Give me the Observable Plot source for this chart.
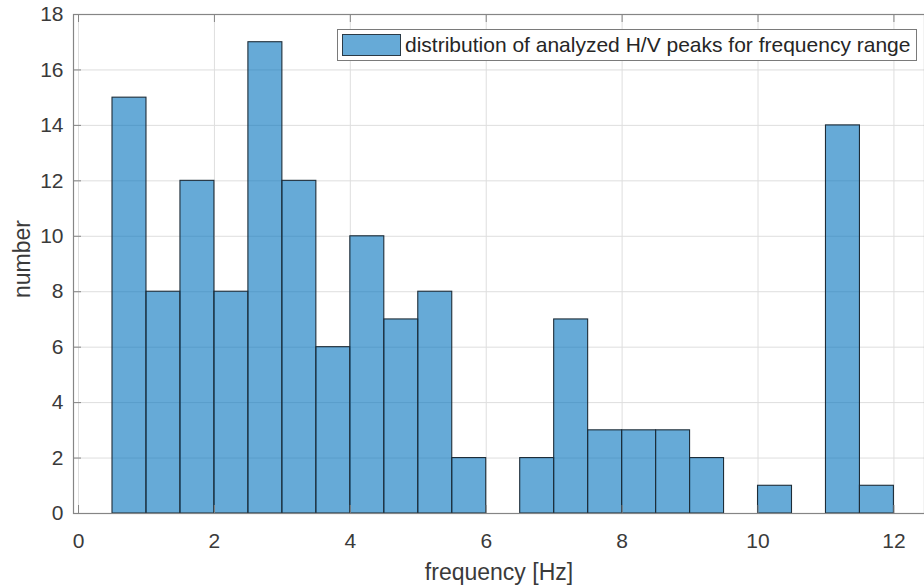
<!DOCTYPE html>
<html>
<head>
<meta charset="utf-8">
<script src="https://cdn.jsdelivr.net/npm/d3@7"></script>
<script src="https://cdn.jsdelivr.net/npm/@observablehq/plot@0.6"></script>
<style>
  body { margin: 0; background: #fff; font-family: "Liberation Sans", Arial, sans-serif; }
  #wrap { position: relative; width: 924px; height: 588px; overflow: hidden; }
  #legend { position: absolute; left: 337px; top: 29px; height: 32px; width: 580px; box-sizing: border-box;
    border: 1px solid #7a7a7a; background: #fff; display: flex; align-items: center; padding-left: 4px;
    font-size: 21px; color: #262626; white-space: nowrap; }
  #legend .sw { width: 59px; height: 22px; box-sizing: border-box; background: rgba(0,114,189,0.6);
    border: 1px solid #2a3a46; margin-right: 4px; }
</style>
</head>
<body>
<div id="wrap"></div>
<script>
// bin edges (Hz) and counts
const binStart = [0.5, 1.0, 1.5, 2.0, 2.5, 3.0, 3.5, 4.0, 4.5, 5.0, 5.5, 6.0, 6.5, 7.0, 7.5, 8.0, 8.5, 9.0, 9.5, 10.0, 10.5, 11.0, 11.5];
const binEnd   = [1.0, 1.5, 2.0, 2.5, 3.0, 3.5, 4.0, 4.5, 5.0, 5.5, 6.0, 6.5, 7.0, 7.5, 8.0, 8.5, 9.0, 9.5, 10.0, 10.5, 11.0, 11.5, 12.0];
const counts   = [15, 8, 12, 8, 17, 12, 6, 10, 7, 8, 2, 0, 2, 7, 3, 3, 3, 2, 0, 1, 0, 14, 1];
const xTicks = [0, 2, 4, 6, 8, 10, 12];
const yTicks = [0, 2, 4, 6, 8, 10, 12, 14, 16, 18];
const legendLabel = "distribution of analyzed H/V peaks for frequency range";

const bins = counts.map((c, i) => ({x1: binStart[i], x2: binEnd[i], y: c})).filter(d => d.y > 0);

const W = 924, H = 588, mL = 73, mR = 0, mT = 14, mB = 75;
const plotH = H - mT - mB, plotW = W - mL - mR;
const tickLen = 8;
const axisColor = "#858585";
const textColor = "#3a3a3a";

const chart = Plot.plot({
  width: W, height: H,
  marginLeft: mL, marginRight: mR, marginTop: mT, marginBottom: mB,
  style: { fontFamily: "'Liberation Sans', Arial, sans-serif", background: "#fff", overflow: "visible" },
  x: { domain: [-0.074, 12.45], ticks: xTicks },
  y: { domain: [0, 18], ticks: yTicks },
  marks: [
    Plot.gridX(xTicks, { stroke: "#dedede", strokeOpacity: 1 }),
    Plot.gridY(yTicks, { stroke: "#dedede", strokeOpacity: 1 }),
    Plot.rectY(bins, { x1: "x1", x2: "x2", y: "y", fill: "#0072BD", fillOpacity: 0.6, stroke: "#1e2d38", strokeWidth: 1.1, inset: 0 }),
    // inward ticks
    Plot.tickX(xTicks, { x: d => d, stroke: axisColor, insetTop: plotH - tickLen }),
    Plot.tickX(xTicks, { x: d => d, stroke: axisColor, insetBottom: plotH - tickLen }),
    Plot.tickY(yTicks, { y: d => d, stroke: axisColor, insetRight: plotW - tickLen }),
    Plot.frame({ stroke: axisColor, strokeWidth: 1.2 }),
    Plot.axisX(xTicks, { tickSize: 0, tickPadding: 20, fontSize: 21, fill: textColor, label: null }),
    Plot.axisY(yTicks, { tickSize: 0, tickPadding: 10, fontSize: 21, fill: textColor, label: null }),
    Plot.text(["frequency [Hz]"], { frameAnchor: "bottom", dy: 66, fontSize: 23, letterSpacing: 0.6, fill: textColor }),
    Plot.text(["number"], { frameAnchor: "left", textAnchor: "middle", dx: -51, dy: -5, rotate: -90, fontSize: 23, letterSpacing: 0.4, fill: textColor })
  ]
});

const wrap = document.getElementById("wrap");
wrap.appendChild(chart);
const lg = document.createElement("div");
lg.id = "legend";
lg.innerHTML = `<div class="sw"></div><span></span>`;
lg.querySelector("span").textContent = legendLabel;
wrap.appendChild(lg);
</script>
</body>
</html>
